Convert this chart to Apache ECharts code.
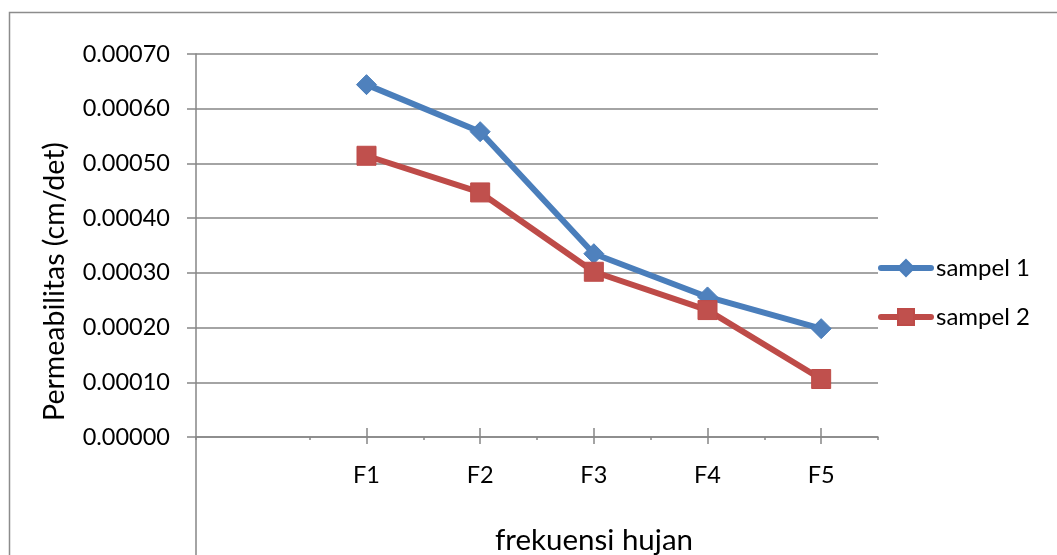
<!DOCTYPE html>
<html>
<head>
<meta charset="utf-8">
<script src="https://cdn.jsdelivr.net/npm/echarts@6/dist/echarts.min.js"></script>
<style>
html,body{margin:0;padding:0;background:#fff;}
#c{width:1057px;height:555px;}
</style>
</head>
<body>
<div id="c"></div>
<script>
const categories = ['F1', 'F2', 'F3', 'F4', 'F5'];
const sampel1 = [0.000644, 0.000558, 0.000335, 0.000256, 0.000198];
const sampel2 = [0.000514, 0.000447, 0.000302, 0.000232, 0.000106];
const yTicks = [0, 0.0001, 0.0002, 0.0003, 0.0004, 0.0005, 0.0006, 0.0007];

const axisData = [''].concat(categories);
const FONT = 'Lato';
const GRID_L = 196, GRID_R = 179, GRID_T = 54, GRID_B = 118;
const GRAY = '#868686';

const chart = echarts.init(document.getElementById('c'), null, {renderer: 'canvas'});
const baseX = {
  type: 'category', data: axisData, position: 'bottom', boundaryGap: true,
  axisLine: {show: false}, axisLabel: {show: false},
  splitLine: {show: false}
};
chart.setOption({
  animation: false,
  backgroundColor: '#fff',
  textStyle: {fontFamily: FONT},
  grid: {left: GRID_L, right: GRID_R, top: GRID_T, bottom: GRID_B, containLabel: false, outerBoundsMode: 'none'},
  legend: {
    orient: 'vertical', left: 878, top: 256, itemGap: 25, padding: 0,
    itemWidth: 50, itemHeight: 20, itemTextGap: 7,
    lineStyle: {width: 6, cap: 'round'},
    textStyle: {fontFamily: FONT, fontSize: 24, color: '#000', lineHeight: 20},
    data: ['sampel 1', 'sampel 2']
  },
  xAxis: [
    {
      type: 'category', data: axisData, position: 'bottom', boundaryGap: true,
      name: 'frekuensi hujan', nameLocation: 'middle', nameGap: 86,
      nameTextStyle: {fontFamily: FONT, fontSize: 29.5, color: '#000', lineHeight: 34, padding: [0, 0, 0, 114]},
      axisLine: {show: true, onZero: false, lineStyle: {color: GRAY, width: 1.5}},
      axisTick: {show: true, alignWithLabel: true, inside: false, length: 7,
        interval: function (i, v) { return v !== ''; },
        lineStyle: {color: GRAY, width: 1.5}},
      axisLabel: {show: true, interval: 0, margin: 24, fontFamily: FONT, fontSize: 23.5, color: '#000', lineHeight: 28},
      splitLine: {show: false}
    },
    Object.assign({}, baseX, {
      axisTick: {show: true, alignWithLabel: true, inside: true, length: 9,
        interval: function (i, v) { return v !== ''; },
        lineStyle: {color: GRAY, width: 1.5}}
    }),
    Object.assign({}, baseX, {
      axisTick: {show: true, alignWithLabel: false, inside: false, length: 3, interval: 0,
        lineStyle: {color: GRAY, width: 1.5}}
    })
  ],
  yAxis: {
    type: 'value', min: yTicks[0], max: yTicks[yTicks.length - 1], interval: yTicks[1] - yTicks[0],
    name: 'Permeabilitas (cm/det)', nameLocation: 'middle', nameGap: 124, nameRotate: 90,
    nameTextStyle: {fontFamily: FONT, fontSize: 28.5, color: '#000', lineHeight: 34, padding: [0, 72, 0, 0]},
    axisLine: {show: true, lineStyle: {color: GRAY, width: 1.5}},
    axisTick: {show: true, length: 9, lineStyle: {color: GRAY, width: 1.5}},
    axisLabel: {margin: 26, fontFamily: FONT, fontSize: 23.5, color: '#000',
      formatter: function (v) { return v.toFixed(5); }},
    splitLine: {show: true, lineStyle: {color: GRAY, width: 1.5}}
  },
  series: [
    {
      name: 'sampel 1', type: 'line', xAxisIndex: 0,
      data: [null].concat(sampel1),
      symbol: 'diamond', symbolSize: 20,
      lineStyle: {color: '#4a7ebb', width: 6, cap: 'round', join: 'round'},
      itemStyle: {color: '#4f81bd', borderColor: '#4a7ebb', borderWidth: 1}
    },
    {
      name: 'sampel 2', type: 'line', xAxisIndex: 0,
      data: [null].concat(sampel2),
      symbol: 'rect', symbolSize: 19,
      lineStyle: {color: '#be4b48', width: 6, cap: 'round', join: 'round'},
      itemStyle: {color: '#c0504d', borderColor: '#be4b48', borderWidth: 1}
    }
  ],
  graphic: [
    {type: 'rect', silent: true, z: -1,
      shape: {x: 9.5, y: 12.5, width: 1200, height: 700},
      style: {fill: 'none', stroke: '#8c8c8c', lineWidth: 1.5}},
    {type: 'line', silent: true,
      shape: {x1: GRID_L, y1: 555 - GRID_B, x2: GRID_L, y2: 560},
      style: {stroke: GRAY, lineWidth: 1.5}}
  ]
});
</script>
</body>
</html>
